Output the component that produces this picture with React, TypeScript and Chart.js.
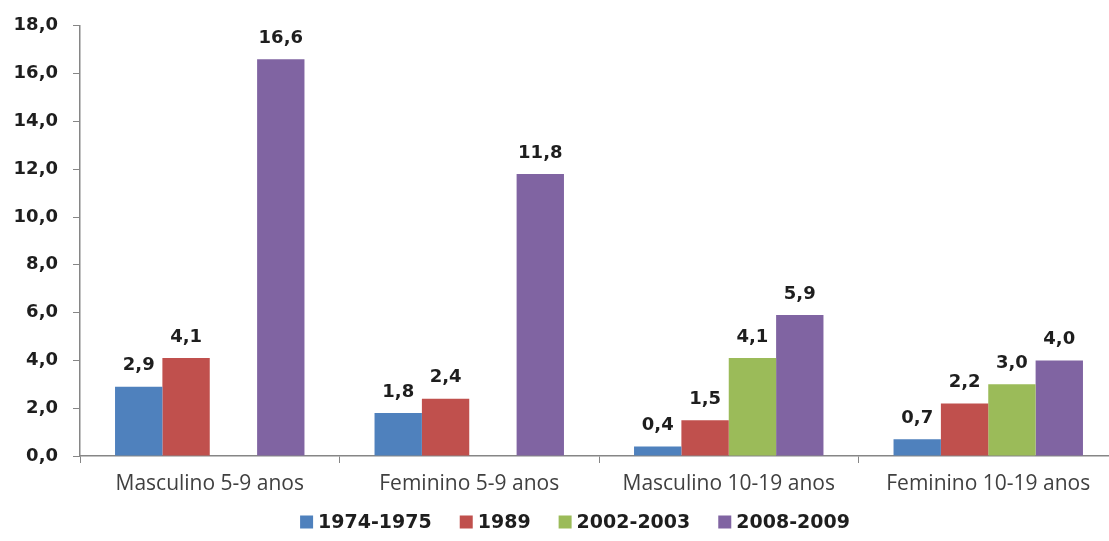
import { useEffect, useRef } from "react";
import { Chart, registerables } from "chart.js";
import type { Plugin } from "chart.js";

Chart.register(...registerables);

const CATEGORIES = [
  "Masculino 5-9 anos",
  "Feminino 5-9 anos",
  "Masculino 10-19 anos",
  "Feminino 10-19 anos",
];

const SERIES_LABELS = ["1974-1975", "1989", "2002-2003", "2008-2009"];
const SERIES_COLORS = ["#4F81BD", "#C0504D", "#9BBB59", "#8064A2"];

const VALUES_1974 = [2.9, 1.8, 0.4, 0.7];
const VALUES_1989 = [4.1, 2.4, 1.5, 2.2];
const VALUES_2002 = [null, null, 4.1, 3.0];
const VALUES_2008 = [16.6, 11.8, 5.9, 4.0];

const SERIES_VALUES = [VALUES_1974, VALUES_1989, VALUES_2002, VALUES_2008];

const Y_MIN = 0;
const Y_MAX = 18;
const Y_STEP = 2;

const fmt = (n: number) => n.toFixed(1).replace(".", ",");

const BOLD_FONT = "DejaVu Sans, Verdana, sans-serif";
const AXIS_GREY = "#868686";

// value labels above each bar
const barLabels: Plugin<"bar"> = {
  id: "barLabels",
  afterDatasetsDraw(chart) {
    const c = chart.ctx;
    c.save();
    c.font = `bold 18px ${BOLD_FONT}`;
    c.fillStyle = "#1e1e1e";
    c.textAlign = "center";
    c.textBaseline = "middle";
    chart.data.datasets.forEach((ds, i) => {
      const meta = chart.getDatasetMeta(i);
      meta.data.forEach((bar, j) => {
        const v = ds.data[j] as number | null;
        if (v == null) return;
        c.fillText(fmt(v), bar.x, bar.y - 21);
      });
    });
    c.restore();
  },
};

// legend drawn by hand: square + bold label, centred under the chart
const bottomLegend: Plugin<"bar"> = {
  id: "bottomLegend",
  afterDraw(chart) {
    const c = chart.ctx;
    const box = 13;
    const gapText = 5;
    const gapItem = 28;
    c.save();
    c.font = `bold 19px ${BOLD_FONT}`;
    c.textBaseline = "middle";
    c.textAlign = "left";
    const items = chart.data.datasets.map((ds) => ({
      text: ds.label ?? "",
      color: ds.backgroundColor as string,
      w: c.measureText(ds.label ?? "").width,
    }));
    const total =
      items.reduce((s, it) => s + box + gapText + it.w, 0) + gapItem * (items.length - 1);
    let x = 575 - total / 2;
    const y = 522;
    items.forEach((it) => {
      c.fillStyle = it.color;
      c.fillRect(x, y - box / 2, box, box);
      c.fillStyle = "#1e1e1e";
      c.fillText(it.text, x + box + gapText, y + 1);
      x += box + gapText + it.w + gapItem;
    });
    c.restore();
  },
};

export default function App() {
  const canvasRef = useRef<HTMLCanvasElement>(null);

  useEffect(() => {
    const canvas = canvasRef.current;
    if (!canvas) return;

    const chart = new Chart(canvas, {
      type: "bar",
      data: {
        labels: CATEGORIES,
        datasets: SERIES_LABELS.map((label, i) => ({
          label,
          data: SERIES_VALUES[i],
          backgroundColor: SERIES_COLORS[i],
          borderWidth: 0,
          barPercentage: 1,
          categoryPercentage: 0.73,
        })),
      },
      options: {
        animation: false,
        responsive: true,
        maintainAspectRatio: false,
        layout: { padding: { top: 24, left: 0, right: 0, bottom: 40 } },
        plugins: {
          legend: { display: false },
          tooltip: { enabled: false },
        },
        scales: {
          x: {
            grid: {
              display: true,
              drawOnChartArea: false,
              drawTicks: true,
              tickLength: 7,
              color: AXIS_GREY,
              offset: true,
            },
            border: { display: true, color: AXIS_GREY, width: 1.5 },
            ticks: {
              color: "#404040",
              font: { family: "Open Sans", size: 21 },
              padding: 8,
              maxRotation: 0,
            },
            afterFit: (scale) => {
              scale.height = 45;
            },
          },
          y: {
            min: Y_MIN,
            max: Y_MAX,
            grid: {
              display: true,
              drawOnChartArea: false,
              drawTicks: true,
              tickLength: 7,
              color: AXIS_GREY,
            },
            border: { display: true, color: AXIS_GREY, width: 1.5 },
            ticks: {
              stepSize: Y_STEP,
              color: "#1e1e1e",
              font: { family: BOLD_FONT, size: 18, weight: "bold" },
              padding: 15,
              callback: (v) => fmt(Number(v)),
            },
            afterFit: (scale) => {
              scale.width = 80;
            },
          },
        },
      },
      plugins: [barLabels, bottomLegend],
    });

    return () => {
      chart.destroy();
    };
  }, []);

  return (
    <div
      style={{
        position: "fixed",
        left: 0,
        top: 0,
        width: 1109,
        height: 541,
        overflow: "hidden",
        background: "#fff",
      }}
    >
      <div style={{ position: "relative", width: 1118, height: 541 }}>
        <canvas ref={canvasRef} />
      </div>
    </div>
  );
}
